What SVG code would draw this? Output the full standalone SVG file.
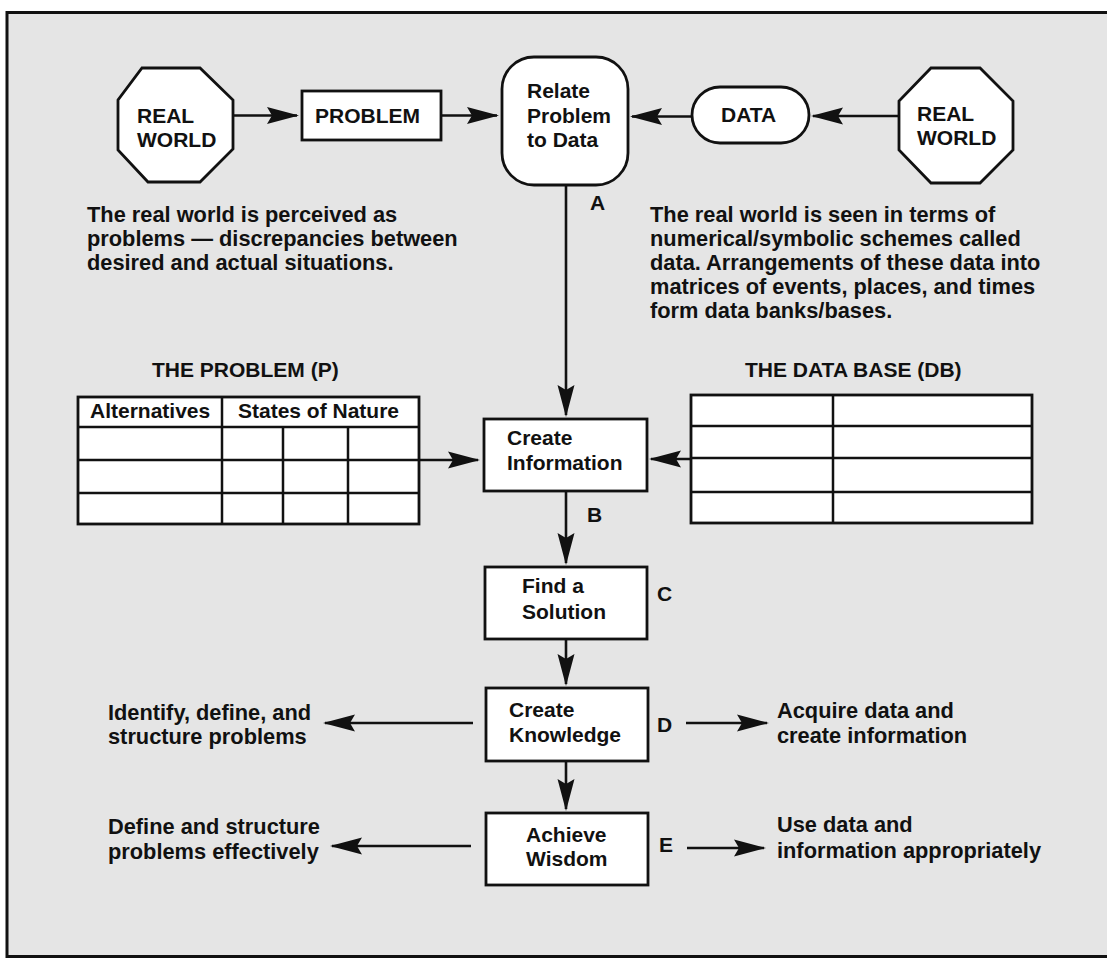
<svg xmlns="http://www.w3.org/2000/svg" width="1107" height="958" viewBox="0 0 1107 958">
<defs>
<style>
.bg{fill:#e5e5e5;stroke:#111;stroke-width:3}
.shape{fill:#fff;stroke:#111;stroke-width:2.8}
.grid{fill:none;stroke:#111;stroke-width:2.5}
.lbl{font-family:"Liberation Sans",Arial,Helvetica,sans-serif;font-weight:bold;font-size:21px;fill:#111}
.txt{font-family:"Liberation Sans",Arial,Helvetica,sans-serif;font-weight:bold;font-size:21.8px;fill:#111}
.conn{fill:none;stroke:#111;stroke-width:2.6;marker-end:url(#ah)}
</style>
<marker id="ah" markerUnits="userSpaceOnUse" viewBox="0 0 32 18" refX="30" refY="9" markerWidth="32" markerHeight="18" orient="auto">
<path d="M0,0.5 L32,9 L0,17.5 L5,9 Z" fill="#111"/>
</marker>
</defs>
<rect width="1107" height="958" fill="#fff"/>
<rect class="bg" x="7" y="12.5" width="1115" height="944"/>

<g id="connectors">
<line class="conn" x1="233" y1="115.5" x2="297" y2="115.5"/>
<line class="conn" x1="441" y1="115.5" x2="497" y2="115.5"/>
<line class="conn" x1="899" y1="116" x2="813" y2="116"/>
<line class="conn" x1="692" y1="116.5" x2="632" y2="116.5"/>
<line class="conn" x1="566" y1="185" x2="566" y2="415"/>
<line class="conn" x1="419" y1="460" x2="478" y2="460"/>
<line class="conn" x1="691" y1="459" x2="651" y2="459"/>
<line class="conn" x1="566" y1="491" x2="566" y2="563"/>
<line class="conn" x1="566" y1="639" x2="566" y2="684"/>
<line class="conn" x1="566" y1="761" x2="566" y2="809"/>
<line class="conn" x1="473" y1="723" x2="325" y2="723"/>
<line class="conn" x1="471" y1="846" x2="332" y2="846"/>
<line class="conn" x1="686" y1="723" x2="767" y2="723"/>
<line class="conn" x1="687" y1="848" x2="764" y2="848"/>
</g>

<g id="real-world-left">
<polygon class="shape" points="142,68 200,68 233,100 233,149 200,182 148,182 118,150 118,100"/>
<text class="lbl" x="137" y="123">REAL</text>
<text class="lbl" x="137" y="147">WORLD</text>
</g>

<g id="problem">
<rect class="shape" x="302" y="91" width="139" height="49"/>
<text class="lbl" x="315" y="123">PROBLEM</text>
</g>

<g id="relate">
<rect class="shape" x="502" y="57" width="126" height="128" rx="32" ry="32"/>
<text class="lbl" x="527" y="98">Relate</text>
<text class="lbl" x="527" y="123">Problem</text>
<text class="lbl" x="527" y="147">to Data</text>
</g>

<g id="data">
<rect class="shape" x="692" y="87" width="117" height="56" rx="28" ry="28"/>
<text class="lbl" x="721" y="122">DATA</text>
</g>

<g id="real-world-right">
<polygon class="shape" points="931,68 980,68 1013,101 1013,150 980,183 931,183 899,150 899,101"/>
<text class="lbl" x="917" y="121">REAL</text>
<text class="lbl" x="917" y="145">WORLD</text>
</g>

<g id="label-a"><text class="lbl" x="590" y="210">A</text></g>

<g id="note-problem">
<text class="txt" x="87" y="222">The real world is perceived as</text>
<text class="txt" x="87" y="246">problems — discrepancies between</text>
<text class="txt" x="87" y="270">desired and actual situations.</text>
</g>

<g id="note-data">
<text class="txt" x="650" y="222">The real world is seen in terms of</text>
<text class="txt" x="650" y="246">numerical/symbolic schemes called</text>
<text class="txt" x="650" y="270">data. Arrangements of these data into</text>
<text class="txt" x="650" y="294">matrices of events, places, and times</text>
<text class="txt" x="650" y="318">form data banks/bases.</text>
</g>

<g id="problem-table">
<text class="lbl" x="152" y="377">THE PROBLEM (P)</text>
<rect class="shape" x="78" y="397" width="341" height="127"/>
<path class="grid" d="M78,427 H419 M78,460 H419 M78,493 H419 M222,397 V524 M283,427 V524 M348,427 V524"/>
<text class="lbl" x="90" y="418">Alternatives</text>
<text class="lbl" x="238" y="418">States of Nature</text>
</g>

<g id="data-base-table">
<text class="lbl" x="745" y="377">THE DATA BASE (DB)</text>
<rect class="shape" x="691" y="395" width="341" height="128"/>
<path class="grid" d="M691,426 H1032 M691,458 H1032 M691,492 H1032 M833,395 V523"/>
</g>

<g id="create-information">
<rect class="shape" x="484" y="419" width="163" height="72"/>
<text class="lbl" x="507" y="445">Create</text>
<text class="lbl" x="507" y="470">Information</text>
</g>

<g id="label-b"><text class="lbl" x="587" y="522">B</text></g>

<g id="find-solution">
<rect class="shape" x="485" y="567" width="162" height="72"/>
<text class="lbl" x="522" y="593">Find a</text>
<text class="lbl" x="522" y="619">Solution</text>
</g>

<g id="label-c"><text class="lbl" x="657" y="601">C</text></g>

<g id="create-knowledge">
<rect class="shape" x="486" y="688" width="162" height="73"/>
<text class="lbl" x="509" y="717">Create</text>
<text class="lbl" x="509" y="742">Knowledge</text>
</g>

<g id="label-d"><text class="lbl" x="657" y="732">D</text></g>

<g id="achieve-wisdom">
<rect class="shape" x="486" y="813" width="162" height="72"/>
<text class="lbl" x="526" y="842">Achieve</text>
<text class="lbl" x="526" y="866">Wisdom</text>
</g>

<g id="label-e"><text class="lbl" x="659" y="852">E</text></g>

<g id="note-left-d">
<text class="txt" x="108" y="720">Identify, define, and</text>
<text class="txt" x="108" y="744">structure problems</text>
</g>
<g id="note-right-d">
<text class="txt" x="777" y="718">Acquire data and</text>
<text class="txt" x="777" y="743">create information</text>
</g>
<g id="note-left-e">
<text class="txt" x="108" y="834">Define and structure</text>
<text class="txt" x="108" y="859">problems effectively</text>
</g>
<g id="note-right-e">
<text class="txt" x="777" y="832">Use data and</text>
<text class="txt" x="777" y="858">information appropriately</text>
</g>
</svg>
